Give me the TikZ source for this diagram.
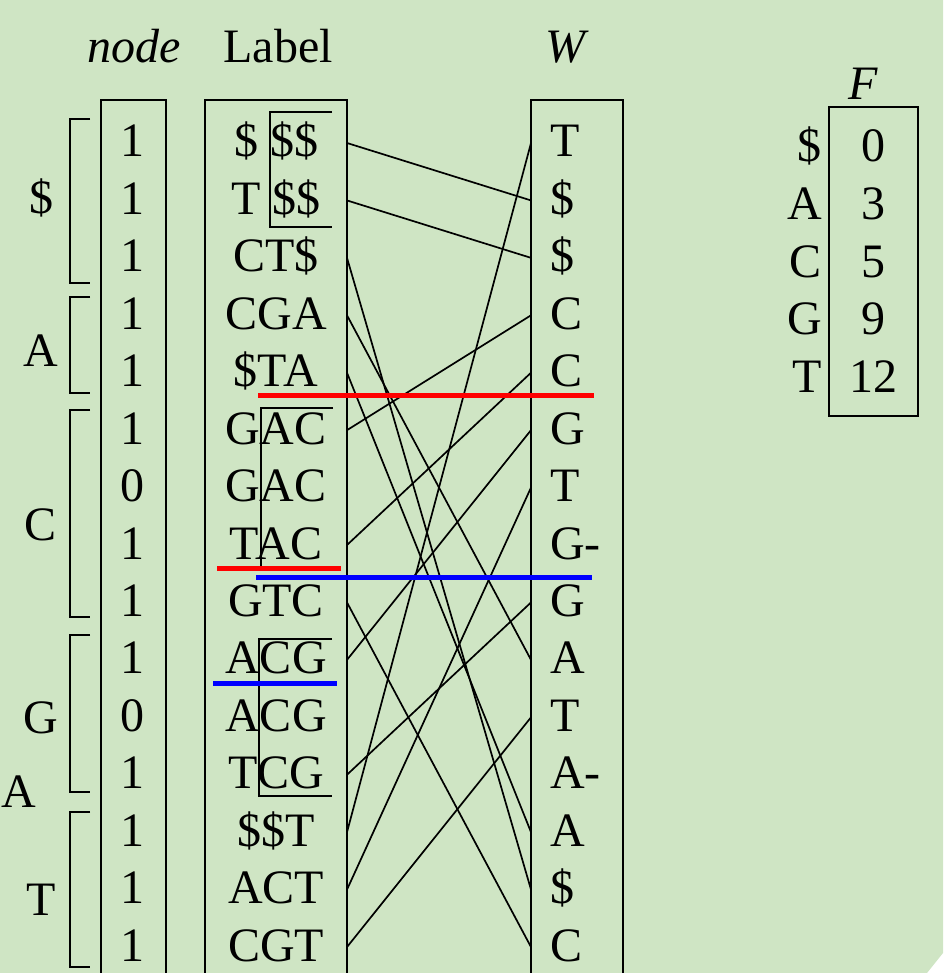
\documentclass[tikz,border=0pt]{standalone}
\usepackage{fontspec}
\setmainfont{Liberation Serif}
\definecolor{bg}{RGB}{207,229,196}
\begin{document}
\begin{tikzpicture}[x=1pt,y=-1pt,
  txt/.style={inner sep=0pt, anchor=base, font=\fontsize{48}{58}\selectfont},
  wtxt/.style={txt, anchor=base west},
  boxline/.style={line width=2pt},
  conn/.style={line width=1.7pt},
  hl/.style={line width=5pt},
]
\useasboundingbox (0,0) rectangle (943,973);
\fill[bg] (0,0) -- (943,0) -- (943,953) -- (927,973) -- (0,973) -- cycle;

% headers
\node[txt] (hnode) at (134,63) {\itshape node};
\node[txt] (hlabel) at (278,63) {Label};
\node[txt] (hw) at (565,63) {\itshape W};
\node[txt] (hf) at (863,100) {\itshape F};

% column boxes
\draw[boxline] (101,980) -- (101,100) -- (166,100) -- (166,980);
\draw[boxline] (205,980) -- (205,100) -- (347,100) -- (347,980);
\draw[boxline] (531,980) -- (531,100) -- (623,100) -- (623,980);
\draw[boxline] (829,107) rectangle (918,416);

% rows
\foreach \i/\n/\l/\w in {1/1/{\$ \$\$}/T, 2/1/{T \$\$}/\$, 3/1/{CT\$}/\$, 4/1/{CGA}/C, 5/1/{\$TA}/C,
  6/1/{GAC}/G, 7/0/{GAC}/T, 8/1/{TAC}/G-, 9/1/{GTC}/G, 10/1/{ACG}/A, 11/0/{ACG}/T,
  12/1/{TCG}/A-, 13/1/{\$\$T}/A, 14/1/{ACT}/\$, 15/1/{CGT}/C}{
  \pgfmathsetmacro{\cy}{143+(\i-1)*57.43}
  \pgfmathsetmacro{\by}{\cy+14}
  \node[txt] (n\i) at (132,\by) {\n};
  \node[txt] (lab\i) at (276,\by) {\l};
  \node[wtxt] (w\i) at (550,\by) {\w};
  \coordinate (lr\i) at (347,\cy);
  \coordinate (wl\i) at (531,\cy);
}

% inner label boxes
\draw[boxline] (332,112) -- (270,112) -- (270,227) -- (332,227);
\draw[boxline] (333,408) -- (261,408) -- (261,567) -- (333,567);
\draw[boxline] (332,639) -- (259,639) -- (259,796) -- (332,796);

% connectors
\foreach \a/\b in {1/2, 2/3, 3/14, 4/10, 5/13, 6/4, 8/5, 9/15, 10/6, 12/9, 13/1, 14/7, 15/11}
  \draw[conn] (lr\a) -- (wl\b);

% brackets
\foreach \t/\b in {119/283, 297/393, 410/617, 635/792, 812/967}
  \draw[boxline] (90,\t) -- (70,\t) -- (70,\b) -- (90,\b);

% group letters
\node[txt] (gd) at (41,214) {\$};
\node[txt] (ga) at (41,366) {A};
\node[txt] (gc) at (41,540) {C};
\node[txt] (gg) at (41,733) {G};
\node[txt] (gx) at (19,807) {A};
\node[txt] (gt) at (41,915) {T};

% F table
\foreach \k/\c/\v in {1/\$/0, 2/A/3, 3/C/5, 4/G/9, 5/T/12}{
  \pgfmathsetmacro{\fy}{162+(\k-1)*57.5}
  \node[txt, anchor=base east] (fc\k) at (822,\fy) {\c};
  \node[txt] (fv\k) at (873,\fy) {\v};
}

% highlight lines
\draw[hl, red] (258,395) -- (594,395);
\draw[hl, red] (217,568) -- (341,568);
\draw[hl, blue] (256,577) -- (592,577);
\draw[hl, blue] (213,683) -- (337,683);
\end{tikzpicture}
\end{document}
